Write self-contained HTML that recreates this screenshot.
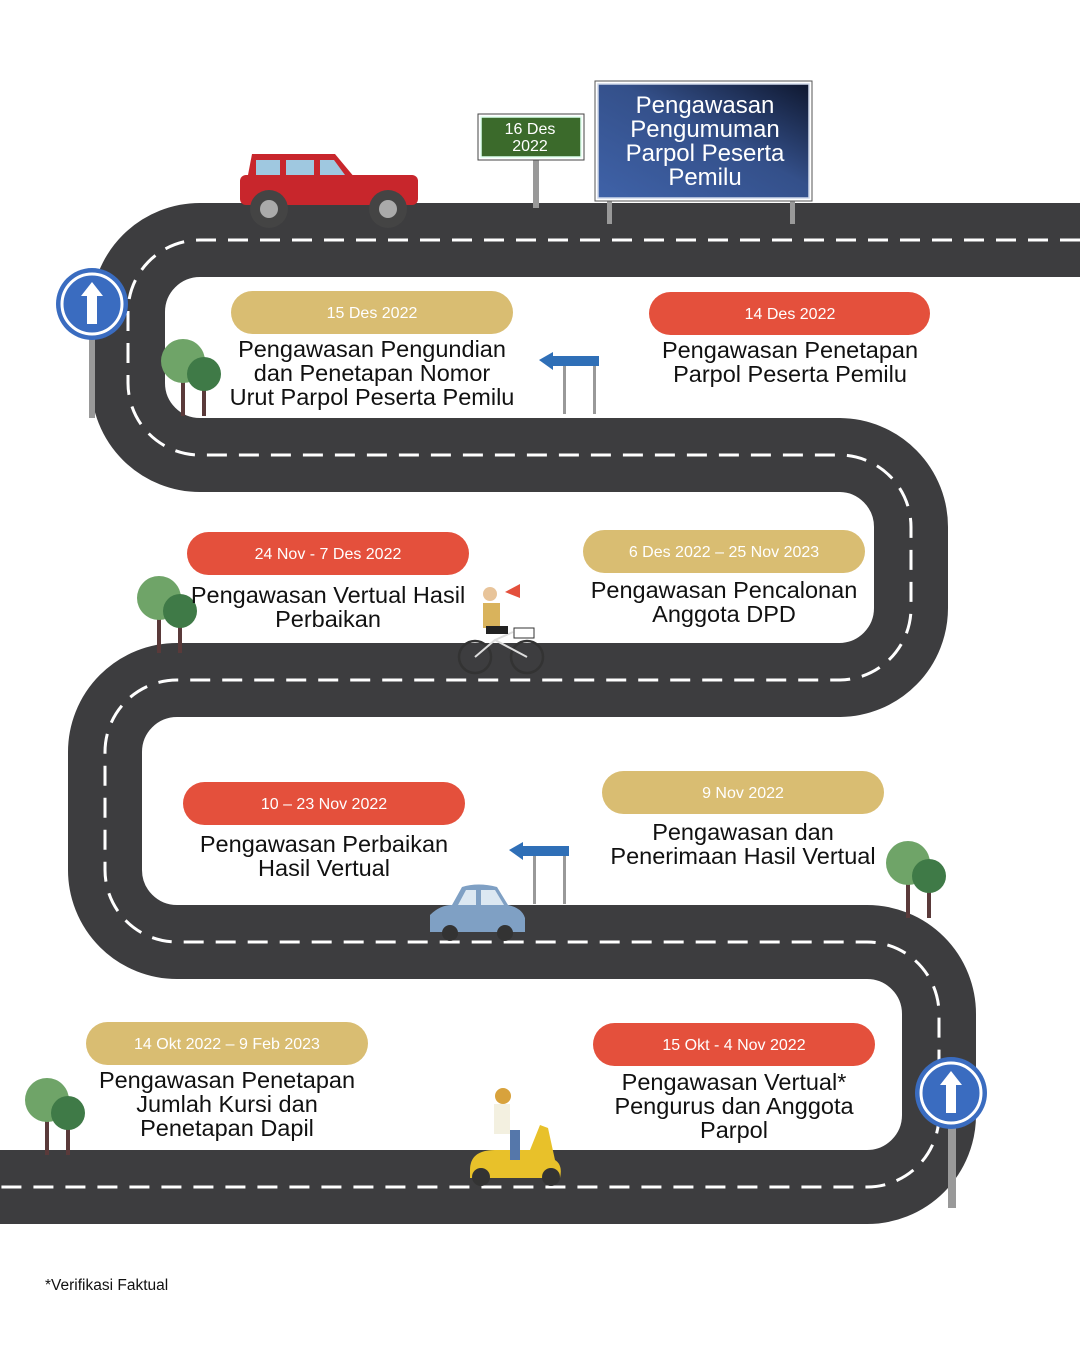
<!DOCTYPE html>
<html><head><meta charset="utf-8"><style>
html,body{margin:0;padding:0;background:#fff;}
svg{display:block;}
text{font-family:"Liberation Sans",sans-serif;}
</style></head><body>
<svg width="1080" height="1350" viewBox="0 0 1080 1350" xmlns="http://www.w3.org/2000/svg">
<defs>
<linearGradient id="bg" x1="0" y1="1" x2="1" y2="0"><stop offset="0" stop-color="#3f62a8"/><stop offset="0.55" stop-color="#34508a"/><stop offset="1" stop-color="#0f1830"/></linearGradient>
<g id="tree"><rect x="-2" y="0" width="4" height="50" fill="#5a3a3a"/><rect x="19" y="10" width="4" height="40" fill="#5a3a3a"/><circle cx="0" cy="-5" r="22" fill="#6fa468"/><circle cx="21" cy="8" r="17" fill="#3f7a47"/></g>
<g id="rsign"><circle r="36" fill="#3a6cc0"/><circle r="30" fill="none" stroke="#fff" stroke-width="3"/><polygon points="0,-22 -11,-8 -5,-8 -5,20 5,20 5,-8 11,-8" fill="#fff"/></g>
<g id="arrowsign"><rect x="24" y="12" width="3" height="50" fill="#999"/><rect x="54" y="12" width="3" height="50" fill="#999"/><polygon points="0,8 14,0 14,4 60,4 60,14 14,14 14,18" fill="#2f6fb7"/></g>
</defs>
<path d="M1080,240 H200 A72,72 0 0 0 128,312 V383 A72,72 0 0 0 200,455 H840 A72,72 0 0 1 911,527 V608 A72,72 0 0 1 840,680 H177 A72,72 0 0 0 105,752 V870 A72,72 0 0 0 177,942 H867 A72,72 0 0 1 939,1014 V1115 A72,72 0 0 1 867,1187 H0" fill="none" stroke="#3d3d3f" stroke-width="74"/>
<path d="M1080,240 H200 A72,72 0 0 0 128,312 V383 A72,72 0 0 0 200,455 H840 A72,72 0 0 1 911,527 V608 A72,72 0 0 1 840,680 H177 A72,72 0 0 0 105,752 V870 A72,72 0 0 0 177,942 H867 A72,72 0 0 1 939,1014 V1115 A72,72 0 0 1 867,1187 H0" fill="none" stroke="#fff" stroke-width="3" stroke-dasharray="20 12"/>
<!-- signs top -->
<rect x="533" y="158" width="6" height="50" fill="#999"/>
<rect x="478" y="114" width="106" height="46" fill="#fff" stroke="#444" stroke-width="1"/>
<rect x="481" y="117" width="100" height="40" fill="#3b6a2b" stroke="#dfe" stroke-width="1.5"/>
<text x="530" y="134" font-size="16" fill="#fff" text-anchor="middle">16 Des</text>
<text x="530" y="151" font-size="16" fill="#fff" text-anchor="middle">2022</text>
<rect x="607" y="198" width="5" height="26" fill="#999"/><rect x="790" y="198" width="5" height="26" fill="#999"/>
<rect x="595" y="81" width="217" height="120" fill="#fff" stroke="#555" stroke-width="1"/>
<rect x="598" y="84" width="211" height="114" fill="url(#bg)" stroke="#cfd8ea" stroke-width="1.5"/>
<g font-size="24" fill="#fff" text-anchor="middle"><text x="705" y="113">Pengawasan</text><text x="705" y="137">Pengumuman</text><text x="705" y="161">Parpol Peserta</text><text x="705" y="185">Pemilu</text></g>
<!-- jeep -->
<g><rect x="240" y="175" width="178" height="30" rx="6" fill="#c8262c"/><path d="M248,175 L252,154 L335,154 L355,178 Z" fill="#c8262c"/><rect x="256" y="160" width="24" height="15" fill="#9fc8e0"/><rect x="286" y="160" width="28" height="15" fill="#9fc8e0"/><path d="M320,160 L334,160 L345,175 L320,175Z" fill="#9fc8e0"/><circle cx="269" cy="209" r="19" fill="#444"/><circle cx="269" cy="209" r="9" fill="#aaa"/><circle cx="388" cy="209" r="19" fill="#444"/><circle cx="388" cy="209" r="9" fill="#aaa"/></g>
<!-- road signs -->
<rect x="89" y="330" width="6" height="88" fill="#999"/><use href="#rsign" x="92" y="304"/>
<rect x="948" y="1120" width="8" height="88" fill="#999"/><use href="#rsign" x="951" y="1093"/>
<use href="#arrowsign" x="539" y="352"/>
<use href="#arrowsign" x="509" y="842"/>
<!-- trees -->
<use href="#tree" x="183" y="366"/><use href="#tree" x="159" y="603"/><use href="#tree" x="908" y="868"/><use href="#tree" x="47" y="1105"/>
<!-- pills -->
<g font-size="16" fill="#fff" text-anchor="middle">
<rect x="231" y="291" width="282" height="43" rx="21.5" fill="#d9bd72"/><text x="372" y="318">15 Des 2022</text>
<rect x="649" y="292" width="281" height="43" rx="21.5" fill="#e4503c"/><text x="790" y="319">14 Des 2022</text>
<rect x="187" y="532" width="282" height="43" rx="21.5" fill="#e4503c"/><text x="328" y="559">24 Nov - 7 Des 2022</text>
<rect x="583" y="530" width="282" height="43" rx="21.5" fill="#d9bd72"/><text x="724" y="557">6 Des 2022 – 25 Nov 2023</text>
<rect x="183" y="782" width="282" height="43" rx="21.5" fill="#e4503c"/><text x="324" y="809">10 – 23 Nov 2022</text>
<rect x="602" y="771" width="282" height="43" rx="21.5" fill="#d9bd72"/><text x="743" y="798">9 Nov 2022</text>
<rect x="86" y="1022" width="282" height="43" rx="21.5" fill="#d9bd72"/><text x="227" y="1049">14 Okt 2022 – 9 Feb 2023</text>
<rect x="593" y="1023" width="282" height="43" rx="21.5" fill="#e4503c"/><text x="734" y="1050">15 Okt - 4 Nov 2022</text>
</g>
<g font-size="23.5" fill="#111" text-anchor="middle">
<text x="372" y="357">Pengawasan Pengundian</text><text x="372" y="381">dan Penetapan Nomor</text><text x="372" y="405">Urut Parpol Peserta Pemilu</text>
<text x="790" y="358">Pengawasan Penetapan</text><text x="790" y="382">Parpol Peserta Pemilu</text>
<text x="328" y="603">Pengawasan Vertual Hasil</text><text x="328" y="627">Perbaikan</text>
<text x="724" y="598">Pengawasan Pencalonan</text><text x="724" y="622">Anggota DPD</text>
<text x="324" y="852">Pengawasan Perbaikan</text><text x="324" y="876">Hasil Vertual</text>
<text x="743" y="840">Pengawasan dan</text><text x="743" y="864">Penerimaan Hasil Vertual</text>
<text x="227" y="1088">Pengawasan Penetapan</text><text x="227" y="1112">Jumlah Kursi dan</text><text x="227" y="1136">Penetapan Dapil</text>
<text x="734" y="1090">Pengawasan Vertual*</text><text x="734" y="1114">Pengurus dan Anggota</text><text x="734" y="1138">Parpol</text>
</g>
<!-- bicycle -->
<g><circle cx="475" cy="657" r="16" fill="none" stroke="#333" stroke-width="2.5"/><circle cx="527" cy="657" r="16" fill="none" stroke="#333" stroke-width="2.5"/><path d="M475,657 L495,640 L527,657 M495,640 L513,632" stroke="#ddd" stroke-width="2" fill="none"/><rect x="483" y="603" width="17" height="25" fill="#d9b35c"/><circle cx="490" cy="594" r="7" fill="#e8c49a"/><rect x="486" y="626" width="22" height="8" fill="#222"/><rect x="514" y="628" width="20" height="10" fill="none" stroke="#333"/><polygon points="505,592 520,584 520,598" fill="#e4503c"/></g>
<!-- car -->
<g><path d="M430,932 L430,915 Q440,905 452,905 L462,887 Q478,882 497,887 L508,905 Q522,908 525,918 L525,932 Z" fill="#7fa0c4"/><path d="M466,890 L476,890 L476,905 L458,905Z M481,890 L495,890 L504,905 L481,905Z" fill="#dce8f2"/><circle cx="450" cy="933" r="8" fill="#333"/><circle cx="505" cy="933" r="8" fill="#333"/></g>
<!-- scooter -->
<g><path d="M470,1170 Q470,1150 495,1150 L530,1150 L540,1125 L548,1128 L555,1160 Q563,1165 560,1178 L470,1178 Z" fill="#e8c12a"/><circle cx="481" cy="1177" r="9" fill="#333"/><circle cx="551" cy="1177" r="9" fill="#333"/><rect x="494" y="1104" width="16" height="30" fill="#f3f0e0"/><circle cx="503" cy="1096" r="8" fill="#d8a23c"/><rect x="510" y="1130" width="10" height="30" fill="#5577aa"/></g>
<text x="45" y="1290" font-size="15.5" fill="#111">*Verifikasi Faktual</text>
</svg>
</body></html>
